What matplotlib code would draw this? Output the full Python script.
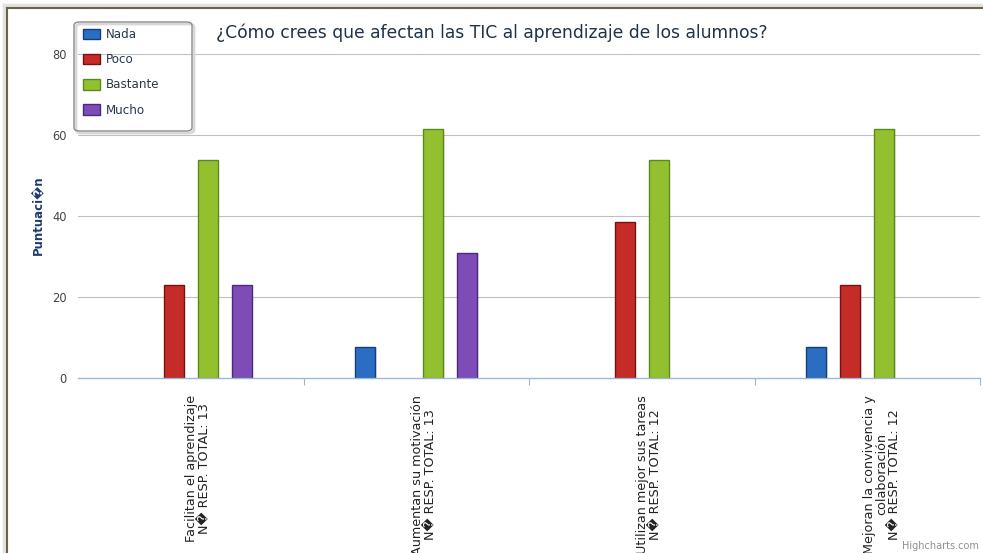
import matplotlib
matplotlib.use("Agg")
import matplotlib.pyplot as plt
from matplotlib.patches import Patch, FancyBboxPatch
from matplotlib.lines import Line2D
import numpy as np

# ---- data ----
categories = [
    "Facilitan el aprendizaje\nN\ufffd RESP. TOTAL: 13",
    "Aumentan su motivación\nN\ufffd RESP. TOTAL: 13",
    "Utilizan mejor sus tareas\nN\ufffd RESP. TOTAL: 12",
    "Mejoran la convivencia y\ncolaboración\nN\ufffd RESP. TOTAL: 12",
]
series_names = ["Nada", "Poco", "Bastante", "Mucho"]
nada = [0.0, 7.69, 0.0, 7.69]
poco = [23.08, 0.0, 38.46, 23.08]
bastante = [53.85, 61.54, 53.85, 61.54]
mucho = [23.08, 30.77, 0.0, 0.0]
y_ticks = [0, 20, 40, 60, 80]

title = "¿Cómo crees que afectan las TIC al aprendizaje de los alumnos?"
y_label = "Puntuaci\ufffdn"
credit = "Highcharts.com"

# ---- style ----
fills = ["#2B6DC3", "#C52B27", "#93C02E", "#7E4CB7"]
edges = ["#173F77", "#761212", "#5C8A1A", "#4A2A7C"]

W, H = 983, 553
fig = plt.figure(figsize=(W / 100, H / 100), dpi=100)
fig.patch.set_facecolor("white")


def fx(px):
    return px / W


def fy(py):
    return 1 - py / H


# outer chart frame (left and top edges visible) with a faint outer shadow
fig.add_artist(Line2D([fx(4), fx(4)], [0, fy(5)], transform=fig.transFigure,
                      color="#E2E2E2", lw=2.5, zorder=0))
fig.add_artist(Line2D([fx(4), 1], [fy(5), fy(5)], transform=fig.transFigure,
                      color="#E2E2E2", lw=2.5, zorder=0))
fig.add_artist(Line2D([fx(7), fx(7)], [0, fy(8)], transform=fig.transFigure,
                      color="#6A6347", lw=1.5))
fig.add_artist(Line2D([fx(7), 1], [fy(8), fy(8)], transform=fig.transFigure,
                      color="#6A6347", lw=1.5))

left, right, top, bottom = 78, 980, 54, 378
ax = fig.add_axes([fx(left), fy(bottom), fx(right - left), (bottom - top) / H])
ax.set_facecolor("none")

x = np.arange(len(categories))
step = 0.151
width = 0.089
all_series = [nada, poco, bastante, mucho]
for i, (vals, fc, ec) in enumerate(zip(all_series, fills, edges)):
    offs = (i - 1.5) * step
    lws = [1.0 if v > 0 else 0.0 for v in vals]
    # soft drop shadow
    ax.bar(x + offs + 0.006, vals, width, color="#000000", alpha=0.08,
           linewidth=0, zorder=2)
    ax.bar(x + offs, vals, width, color=fc, edgecolor=ec, linewidth=lws, zorder=3)

ax.set_xlim(-0.5, 3.5)
ax.set_ylim(0, 80)

for s in ax.spines.values():
    s.set_visible(False)

# grid lines
for t in y_ticks[1:]:
    ax.axhline(t, color="#C0C0C0", lw=0.8, zorder=1)
# x axis line
ax.axhline(0, color="#9DB8D6", lw=1.0, zorder=4, clip_on=False)

ax.set_yticks(y_ticks)
ax.set_yticklabels([str(t) for t in y_ticks], fontsize=8.3, color="#444444")
ax.tick_params(axis="y", length=0, pad=8)

ax.set_xticks([0.5, 1.5, 2.5, 3.5])
ax.set_xticklabels([])
ax.tick_params(axis="x", length=5, width=0.8, color="#9DB8D6", direction="out")

# rotated category labels: first line sits on the category centre
line_px = 14.5
for xi, lab in zip(x, categories):
    n = lab.count("\n") + 1
    ax.annotate(lab, xy=(xi, 0), xycoords=("data", "axes fraction"),
                xytext=((n - 1) / 2 * line_px, -17), textcoords="offset pixels",
                rotation=90, rotation_mode="anchor", ha="right", va="center",
                multialignment="center", fontsize=9.2, color="#222222",
                linespacing=0.95, annotation_clip=False)

fig.text(0.5, fy(33), title, ha="center", va="center", fontsize=12.3,
         color="#1F3248")
fig.text(fx(38), fy(215), y_label, rotation=90, ha="center", va="center",
         fontsize=8.5, fontweight="bold", color="#1E3A6E")

# legend box
fig.add_artist(FancyBboxPatch((fx(76), fy(133)), fx(118), (133 - 24) / H,
                              boxstyle="round,pad=0,rounding_size=0.006",
                              transform=fig.transFigure, facecolor="none",
                              edgecolor="#D8D8D8", lw=2.0, zorder=5))
fig.add_artist(FancyBboxPatch((fx(74), fy(131)), fx(118), (131 - 22) / H,
                              boxstyle="round,pad=0,rounding_size=0.006",
                              transform=fig.transFigure, facecolor="none",
                              edgecolor="#8C8C8C", lw=1.0, zorder=6))

handles = [Patch(facecolor=fc, edgecolor=ec, linewidth=1.0)
           for fc, ec in zip(fills, edges)]
leg = ax.legend(handles, series_names, loc="upper left",
                bbox_to_anchor=(fx(83), fy(28)), bbox_transform=fig.transFigure,
                borderaxespad=0, borderpad=0, fontsize=8.6, frameon=False,
                handlelength=1.43, handleheight=1.0, labelspacing=1.02,
                handletextpad=0.5)
for t in leg.get_texts():
    t.set_color("#25384C")
leg.set_zorder(7)

fig.text(fx(979), fy(546), credit, ha="right", va="center",
         fontsize=7.0, color="#909090")

fig.savefig("out.png", dpi=100)
